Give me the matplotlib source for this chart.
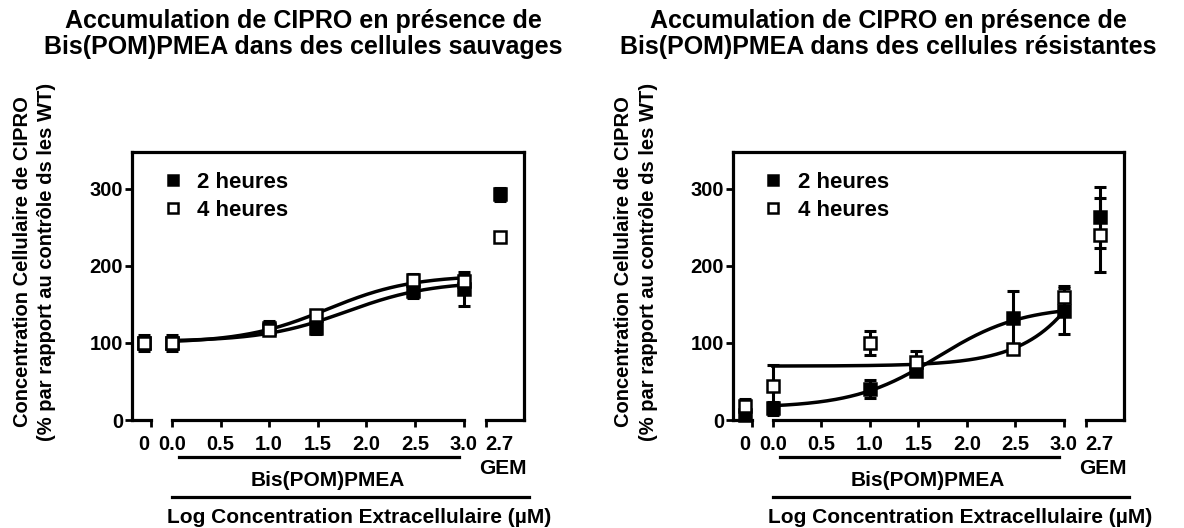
import numpy as np
import matplotlib
matplotlib.use("Agg")
import matplotlib.pyplot as plt

plt.rcParams['font.family'] = ['Liberation Sans', 'DejaVu Sans']
plt.rcParams['font.weight'] = 'bold'

# --- data ---
log_dose = [0.0, 1.0, 1.48, 2.48, 3.0]   # log10 of 1, 10, 30, 300, 1000 uM
ctrl_x = -0.29                           # position of untreated control
gem_x = 3.37                             # position of GEM point

# wild-type cells
wt_2h_mean = [100, 120, 120, 167, 170]
wt_2h_sem = [11, 8, 8, 8, 22]
wt_2h_ctrl = (100, 11)
wt_2h_gem = (293, 8)
wt_4h_mean = [100, 117, 136, 182, 180]
wt_4h_sem = [6, 5, 4, 8, 8]
wt_4h_ctrl = (100, 6)
wt_4h_gem = (238, 5)

# resistant cells
res_2h_mean = [15, 40, 63, 132, 142]
res_2h_sem = [9, 12, 5, 36, 30]
res_2h_ctrl = (6, 5)
res_2h_gem = (263, 40)
res_4h_mean = [44, 100, 75, 92, 160]
res_4h_sem = [27, 15, 14, 6, 14]
res_4h_ctrl = (18, 9)
res_4h_gem = (240, 48)

# sigmoid fit parameters: bottom, top, logEC50, hill
wt_2h_fit = (102, 180, 1.8, 1.0)
wt_4h_fit = (100, 188, 1.6, 1.0)
res_2h_fit = (16, 148, 1.7, 1.0)
res_4h_fit = (70, 850, 4.0, 1.0)

xtick_pos = [ctrl_x, 0.0, 0.5, 1.0, 1.5, 2.0, 2.5, 3.0, gem_x]
xtick_lab = ['0', '0.0', '0.5', '1.0', '1.5', '2.0', '2.5', '3.0', '2.7']
xmark_pos = [-0.21, 0.0, 0.5, 1.0, 1.5, 2.0, 2.5, 3.0, 3.23]
segments = [(-0.41, -0.21), (0.0, 3.0), (3.23, 3.62)]

titles = ["Accumulation de CIPRO en présence de\nBis(POM)PMEA dans des cellules sauvages",
          "Accumulation de CIPRO en présence de\nBis(POM)PMEA dans des cellules résistantes"]
ylab1 = "Concentration Cellulaire de CIPRO"
ylab2 = "(% par rapport au contrôle ds les WT)"


def sigmoid(x, bottom, top, logec50, hill):
    return bottom + (top - bottom) / (1 + 10 ** ((logec50 - x) * hill))


LW = 2.3
W, H = 1184, 528


def draw_panel(ax, sets, title, title_x, ylab_x):
    xfit = np.linspace(0, 3, 200)
    for mean, sem, ctrl, gem, fit, filled, lab in sets:
        ax.plot(xfit, sigmoid(xfit, *fit), color='black', lw=2.5, zorder=2)
        xs = [ctrl_x] + log_dose + [gem_x]
        ys = [ctrl[0]] + mean + [gem[0]]
        es = [ctrl[1]] + sem + [gem[1]]
        ax.errorbar(xs, ys, yerr=es, fmt='none', ecolor='black', elinewidth=2.2,
                    capsize=4.5, capthick=2.2, zorder=3, clip_on=False)
        ax.plot(xs, ys, ls='none', marker='s', ms=8.5, mec='black', mew=1.8,
                mfc='black' if filled else 'white', zorder=4, clip_on=False, label=lab)

    ax.set_xlim(-0.41, 3.62)
    ax.set_ylim(0, 348)
    for s in ['left', 'top', 'right']:
        ax.spines[s].set_linewidth(LW)
    ax.spines['bottom'].set_visible(False)
    tr = ax.get_xaxis_transform()
    for a, b in segments:
        ax.plot([a, b], [0, 0], color='black', lw=LW,
                solid_capstyle='projecting', clip_on=False, zorder=5)

    ax.set_yticks([0, 100, 200, 300])
    ax.tick_params(axis='y', direction='out', length=5, width=2, labelsize=14.5, pad=1.5)
    ax.xaxis.remove_overlapping_locs = False
    ax.set_xticks(xtick_pos, xtick_lab)
    ax.set_xticks(xmark_pos, minor=True)
    ax.tick_params(axis='x', which='major', length=0, labelsize=14.5, pad=11)
    ax.tick_params(axis='x', which='minor', direction='out', length=5, width=2)

    # group labels under the axis
    ax.plot([0.07, 2.95], [-0.138, -0.138], transform=tr, color='black', lw=LW, clip_on=False)
    ax.text(1.6, -0.224, "Bis(POM)PMEA", transform=tr, ha='center', va='center',
            fontsize=15, fontweight='bold')
    ax.text(3.4, -0.18, "GEM", transform=tr, ha='center', va='center',
            fontsize=15, fontweight='bold')
    ax.plot([0.0, 3.67], [-0.287, -0.287], transform=tr, color='black', lw=LW, clip_on=False)
    ax.text(1.93, -0.362, "Log Concentration Extracellulaire (µM)", transform=tr,
            ha='center', va='center', fontsize=15, fontweight='bold')

    ax.legend(loc='upper left', bbox_to_anchor=(0.075, 0.925), frameon=False,
              handlelength=1.0, handletextpad=0.6, labelspacing=0.3, markerscale=0.85,
              borderpad=0, borderaxespad=0, prop={'size': 16, 'weight': 'bold'})

    fig.text(title_x / W, 1 - 34 / H, title, ha='center', va='center', fontsize=18,
             fontweight='bold', linespacing=1.15)
    fig.text(ylab_x / W, 1 - 262 / H, ylab1, rotation=90, ha='center', va='center',
             fontsize=14.5, fontweight='bold')
    fig.text((ylab_x + 24) / W, 1 - 262 / H, ylab2, rotation=90, ha='center', va='center',
             fontsize=14.5, fontweight='bold')


fig = plt.figure(figsize=(W / 100, H / 100), dpi=100)
ax1 = fig.add_axes([132 / W, 108 / H, 392 / W, 268 / H])
ax2 = fig.add_axes([733 / W, 108 / H, 391 / W, 268 / H])

draw_panel(ax1, [
    (wt_2h_mean, wt_2h_sem, wt_2h_ctrl, wt_2h_gem, wt_2h_fit, True, '2 heures'),
    (wt_4h_mean, wt_4h_sem, wt_4h_ctrl, wt_4h_gem, wt_4h_fit, False, '4 heures'),
], titles[0], 303, 23)
draw_panel(ax2, [
    (res_2h_mean, res_2h_sem, res_2h_ctrl, res_2h_gem, res_2h_fit, True, '2 heures'),
    (res_4h_mean, res_4h_sem, res_4h_ctrl, res_4h_gem, res_4h_fit, False, '4 heures'),
], titles[1], 888, 624)

fig.savefig("out.png", dpi=100)
